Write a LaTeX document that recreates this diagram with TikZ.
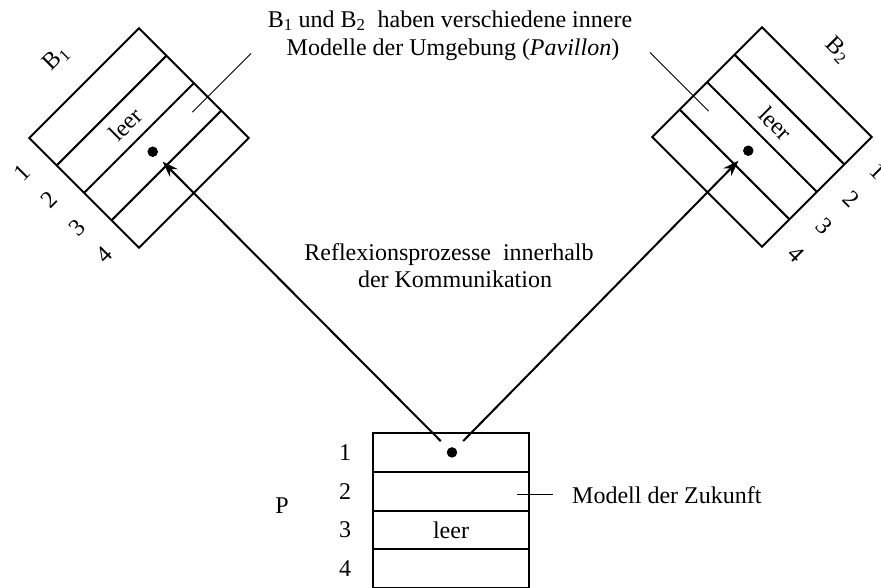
\documentclass[tikz,border=0pt]{standalone}
\usepackage{fontspec}
\setmainfont{Liberation Serif}
\usetikzlibrary{arrows.meta}
\begin{document}
\begin{tikzpicture}[x=1pt,y=1pt,
  boxline/.style={line width=2pt},
  leader/.style={line width=0.9pt},
  lbl/.style={font=\fontsize{24}{28}\selectfont, inner sep=0pt},
  dotnode/.style={circle, fill=black, inner sep=0pt, minimum size=10.5pt},
  arr/.style={line width=2pt, -{Stealth[length=16pt,width=11pt]}, shorten <=10.5pt, shorten >=8.5pt}
]
\useasboundingbox (0,0) rectangle (881,-587);

% ---------- B1 ----------
\begin{scope}[shift={(139,-138)}, rotate=45]
  \draw[boxline] (-77.6,-77.6) rectangle (77.6,77.6);
  \draw[boxline] (-77.6,38.8) -- (77.6,38.8);
  \draw[boxline] (-77.6,0) -- (77.6,0);
  \draw[boxline] (-77.6,-38.8) -- (77.6,-38.8);
  \node[lbl, rotate=45] (b1n1) at (-107,58.2) {1};
  \node[lbl, rotate=45] (b1n2) at (-107,19.4) {2};
  \node[lbl, rotate=45] (b1n3) at (-107,-19.4) {3};
  \node[lbl, rotate=45] (b1n4) at (-107,-58.2) {4};
  \node[lbl, rotate=45] (b1leer) at (0,19.4) {leer};
  \node[dotnode] (b1dot) at (0,-19.4) {};
  \node[lbl, rotate=45] (b1name) at (-2,115) {B\textsubscript{1}};
  \coordinate (b1la) at (56,-19.4);
  \coordinate (b1lb) at (139,-19.4);
\end{scope}
\draw[leader] (b1la) -- (b1lb);

% ---------- B2 ----------
\begin{scope}[shift={(762,-137)}, rotate=-45]
  \draw[boxline] (-77.6,-77.6) rectangle (77.6,77.6);
  \draw[boxline] (-77.6,38.8) -- (77.6,38.8);
  \draw[boxline] (-77.6,0) -- (77.6,0);
  \draw[boxline] (-77.6,-38.8) -- (77.6,-38.8);
  \node[lbl, rotate=-45] (b2n1) at (107,58.2) {1};
  \node[lbl, rotate=-45] (b2n2) at (107,19.4) {2};
  \node[lbl, rotate=-45] (b2n3) at (107,-19.4) {3};
  \node[lbl, rotate=-45] (b2n4) at (107,-58.2) {4};
  \node[lbl, rotate=-45] (b2leer) at (0,19.4) {leer};
  \node[dotnode] (b2dot) at (0,-19.4) {};
  \node[lbl, rotate=-45] (b2name) at (-8,115) {B\textsubscript{2}};
  \coordinate (b2la) at (-56,-19.4);
  \coordinate (b2lb) at (-139,-19.4);
\end{scope}
\draw[leader] (b2la) -- (b2lb);

% ---------- P ----------
\draw[boxline] (373,-433) rectangle (529,-588.2);
\draw[boxline] (373,-471.8) -- (529,-471.8);
\draw[boxline] (373,-510.6) -- (529,-510.6);
\draw[boxline] (373,-549.4) -- (529,-549.4);
\node[lbl] (pn1) at (345,-452.4) {1};
\node[lbl] (pn2) at (345,-491.2) {2};
\node[lbl] (pn3) at (345,-530) {3};
\node[lbl] (pn4) at (345,-568.8) {4};
\node[dotnode] (pdot) at (452,-452.4) {};
\node[lbl] (pleer) at (451,-530) {leer};
\node[lbl] (pname) at (282,-506) {P};
\coordinate (pla) at (517,-494);
\coordinate (plb) at (553,-494);
\draw[leader] (pla) -- (plb);
\node[lbl, anchor=base west] (zukunft) at (572,-503) {Modell der Zukunft};

% ---------- arrows ----------
\draw[arr] (pdot) -- (b1dot);
\draw[arr] (pdot) -- (b2dot);

% ---------- texts ----------
\node[lbl, anchor=base] (t1) at (450,-27) {B\textsubscript{1} und B\textsubscript{2}\ \ haben verschiedene innere};
\node[lbl, anchor=base] (t2) at (453,-55) {Modelle der Umgebung (\textit{Pavillon})};
\node[lbl, anchor=base] (m1) at (449,-260) {Reflexionsprozesse\ \ innerhalb};
\node[lbl, anchor=base] (m2) at (455,-287) {der Kommunikation};
\end{tikzpicture}
\end{document}
